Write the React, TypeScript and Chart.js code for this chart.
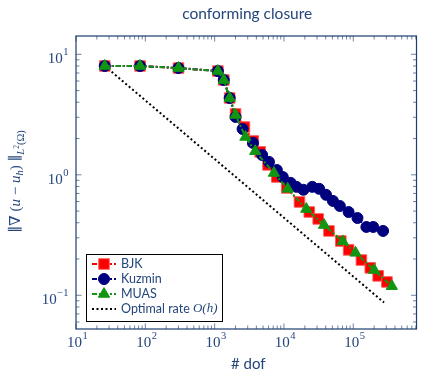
import React, { useEffect, useRef } from 'react';
import { Chart, registerables } from 'chart.js';

Chart.register(...registerables);

// ---------- data ----------
const BJK_DOF = [26, 84, 301, 1114, 1355, 1648, 2004, 2690, 3610, 4540, 5890, 7900, 10960, 16750, 23200, 31200, 44600, 66100, 85700, 131000, 176000, 228500, 306000];
const BJK_ERR = [8.0, 8.0, 7.69, 7.26, 6.12, 4.34, 3.2, 2.49, 1.91, 1.55, 1.21, 0.959, 0.779, 0.595, 0.491, 0.43, 0.342, 0.282, 0.238, 0.196, 0.169, 0.145, 0.129];

const KUZMIN_DOF = [26, 84, 301, 1114, 1355, 1648, 2004, 2530, 3570, 4850, 6080, 7900, 9620, 12500, 15200, 19100, 25600, 32200, 40500, 50900, 64000, 85700, 115000, 154500, 194000, 269000];
const KUZMIN_ERR = [8.0, 8.0, 7.69, 7.26, 6.12, 4.34, 3.02, 2.4, 1.84, 1.46, 1.28, 1.096, 0.959, 0.857, 0.794, 0.751, 0.794, 0.765, 0.682, 0.607, 0.551, 0.491, 0.438, 0.369, 0.369, 0.342];

const MUAS_DOF = [26, 84, 301, 1114, 1355, 1648, 2004, 2780, 3850, 7160, 11330, 21000, 37900, 70500, 107800, 200000, 360000];
const MUAS_ERR = [8.0, 8.0, 7.69, 7.26, 6.12, 4.34, 3.14, 2.06, 1.57, 1.035, 0.765, 0.52, 0.383, 0.28, 0.225, 0.162, 0.119];

const OPT_DOF = [26, 278000];
const OPT_ERR = [8.0, 0.087];

const X_TICKS = [10, 100, 1000, 10000, 100000];
const Y_TICKS = [0.1, 1, 10];

const TITLE = 'conforming closure';
const X_TITLE = '# dof';
const LEGEND_LABELS = ['BJK', 'Kuzmin', 'MUAS', 'Optimal rate '];

// ---------- styles ----------
const NAVY = '#24467a';
const RED = '#ff0000';
const BLUE = '#00007f';
const GREEN = '#129612';
const SERIES_DASH = [5, 2, 2, 2];
const OPT_DASH = [2, 2.5];

const SERIF = '"Liberation Serif", "DejaVu Serif", serif';
const SANS = 'Lato, "Open Sans", sans-serif';

const toPts = (xs: number[], ys: number[]) => xs.map((x, i) => ({ x, y: ys[i] }));

function drawMarker(ctx: CanvasRenderingContext2D, style: string, x: number, y: number, r: number, fill: string, stroke: string) {
  ctx.save();
  ctx.fillStyle = fill;
  ctx.strokeStyle = stroke;
  ctx.lineWidth = 1;
  ctx.setLineDash([]);
  ctx.beginPath();
  if (style === 'rect') {
    const s = Math.SQRT1_2 * r;
    ctx.rect(x - s, y - s, 2 * s, 2 * s);
  } else if (style === 'circle') {
    ctx.arc(x, y, r, 0, Math.PI * 2);
  } else {
    ctx.moveTo(x, y - r);
    ctx.lineTo(x + 0.866 * r, y + 0.5 * r);
    ctx.lineTo(x - 0.866 * r, y + 0.5 * r);
    ctx.closePath();
  }
  ctx.fill();
  ctx.stroke();
  ctx.restore();
}

function expLabel(v: number) {
  const e = Math.round(Math.log10(v));
  return e < 0 ? '\u2212' + Math.abs(e) : String(e);
}

const overlay = {
  id: 'overlay',
  afterDraw(chart: any) {
    const ctx: CanvasRenderingContext2D = chart.ctx;
    const a = chart.chartArea;
    const xs = chart.scales.x;
    const ys = chart.scales.y;
    ctx.save();

    // ticks (inward, on all four sides)
    ctx.strokeStyle = '#4a628a';
    ctx.lineWidth = 0.8;
    const drawTicks = (scale: any, horizontal: boolean) => {
      const e0 = Math.floor(Math.log10(scale.min));
      const e1 = Math.ceil(Math.log10(scale.max));
      for (let e = e0; e <= e1; e++) {
        for (let m = 1; m <= 9; m++) {
          const v = m * Math.pow(10, e);
          if (v < scale.min * 0.9999 || v > scale.max * 1.0001) continue;
          const p = scale.getPixelForValue(v);
          const len = m === 1 ? 5.5 : 3.5;
          ctx.beginPath();
          if (horizontal) {
            ctx.moveTo(p, a.bottom); ctx.lineTo(p, a.bottom - len);
            ctx.moveTo(p, a.top); ctx.lineTo(p, a.top + len);
          } else {
            ctx.moveTo(a.left, p); ctx.lineTo(a.left + len, p);
            ctx.moveTo(a.right, p); ctx.lineTo(a.right - len, p);
          }
          ctx.stroke();
        }
      }
    };
    drawTicks(xs, true);
    drawTicks(ys, false);

    // frame
    ctx.strokeStyle = '#1d3d6e';
    ctx.lineWidth = 1.2;
    ctx.strokeRect(a.left, a.top, a.right - a.left, a.bottom - a.top);

    // tick labels
    ctx.fillStyle = NAVY;
    ctx.textBaseline = 'alphabetic';
    ctx.textAlign = 'left';
    const baseFont = '15px ' + SERIF;
    const expFont = '10.5px ' + SERIF;
    X_TICKS.forEach((v) => {
      const px = xs.getPixelForValue(v);
      ctx.font = baseFont;
      const w1 = ctx.measureText('10').width;
      ctx.font = expFont;
      const ex = expLabel(v);
      const w2 = ctx.measureText(ex).width;
      const x0 = px - (w1 + w2) / 2 + 1;
      ctx.font = baseFont;
      ctx.fillText('10', x0, 347);
      ctx.font = expFont;
      ctx.fillText(ex, x0 + w1 + 0.5, 339);
    });
    Y_TICKS.forEach((v) => {
      const py = ys.getPixelForValue(v);
      ctx.font = baseFont;
      const w1 = ctx.measureText('10').width;
      ctx.font = expFont;
      const ex = expLabel(v);
      const w2 = ctx.measureText(ex).width;
      const x0 = 68.5 - (w1 + w2 + 0.5);
      ctx.font = baseFont;
      ctx.fillText('10', x0, py + 9);
      ctx.font = expFont;
      ctx.fillText(ex, x0 + w1 + 0.5, py + 1);
    });

    // title
    ctx.textAlign = 'center';
    ctx.textBaseline = 'middle';
    ctx.font = '15.5px ' + SANS;
    ctx.fillText(TITLE, (a.left + a.right) / 2 + 1, 14);
    // x title
    ctx.font = '15px ' + SANS;
    ctx.fillText(X_TITLE, (a.left + a.right) / 2 + 2, 364);

    // y title (rotated)
    ctx.save();
    ctx.translate(20, (a.top + a.bottom) / 2 - 1);
    ctx.rotate(-Math.PI / 2);
    ctx.textAlign = 'left';
    ctx.textBaseline = 'alphabetic';
    const segs = [
      { t: '\u2225\u2207 (', f: '15px ' + SERIF, dy: 0 },
      { t: 'u', f: 'italic 15px ' + SERIF, dy: 0 },
      { t: ' \u2212 ', f: '15px ' + SERIF, dy: 0 },
      { t: 'u', f: 'italic 15px ' + SERIF, dy: 0 },
      { t: 'h', f: 'italic 10.5px ' + SERIF, dy: 3 },
      { t: ') \u2225', f: '15px ' + SERIF, dy: 0 },
      { t: 'L', f: 'italic 10.5px ' + SERIF, dy: 4 },
      { t: '2', f: '7.5px ' + SERIF, dy: -1 },
      { t: '(\u03A9)', f: '10.5px ' + SERIF, dy: 4 },
    ];
    let total = 0;
    segs.forEach((s) => { ctx.font = s.f; total += ctx.measureText(s.t).width; });
    let cx = -total / 2;
    segs.forEach((s) => {
      ctx.font = s.f;
      ctx.fillText(s.t, cx, s.dy);
      cx += ctx.measureText(s.t).width;
    });
    ctx.restore();

    // legend
    const lx = 86, ly = 254, lw = 136, lh = 67;
    ctx.fillStyle = '#ffffff';
    ctx.fillRect(lx, ly, lw, lh);
    ctx.strokeStyle = '#000000';
    ctx.lineWidth = 1;
    ctx.setLineDash([]);
    ctx.strokeRect(lx + 0.5, ly + 0.5, lw, lh);
    const entries = [
      { c: RED, s: 'rect', r: 7.5, dash: SERIES_DASH, stroke: 'rgba(255,90,90,0.9)' },
      { c: BLUE, s: 'circle', r: 5.5, dash: SERIES_DASH, stroke: BLUE },
      { c: GREEN, s: 'triangle', r: 6.5, dash: SERIES_DASH, stroke: GREEN },
      { c: '#000000', s: 'none', r: 0, dash: OPT_DASH, stroke: '#000' },
    ];
    entries.forEach((en, i) => {
      const y = 264 + i * 15;
      ctx.save();
      ctx.strokeStyle = en.c;
      ctx.lineWidth = 2;
      ctx.setLineDash(en.dash);
      ctx.beginPath();
      ctx.moveTo(92, y);
      ctx.lineTo(116, y);
      ctx.stroke();
      ctx.restore();
      if (en.s !== 'none') drawMarker(ctx, en.s, 104, y, en.r, en.c, en.stroke);
      ctx.fillStyle = NAVY;
      ctx.textAlign = 'left';
      ctx.textBaseline = 'middle';
      ctx.font = '12.5px ' + SANS;
      ctx.fillText(LEGEND_LABELS[i], 121, y);
      if (i === 3) {
        const w = ctx.measureText(LEGEND_LABELS[i]).width;
        ctx.font = 'italic 13px ' + SERIF;
        ctx.fillText('O(h)', 121 + w, y);
      }
    });

    ctx.restore();
  },
};

export default function App() {
  const ref = useRef<HTMLCanvasElement | null>(null);
  useEffect(() => {
    if (!ref.current) return;
    const common = { borderWidth: 2, borderDash: SERIES_DASH, fill: false, tension: 0, pointBorderWidth: 1 };
    const chart = new Chart(ref.current, {
      type: 'line',
      data: {
        datasets: [
          {
            ...common,
            label: 'BJK',
            data: toPts(BJK_DOF, BJK_ERR),
            borderColor: RED,
            pointStyle: 'rect',
            pointRadius: 7.5,
            pointBackgroundColor: RED,
            pointBorderColor: 'rgba(255,90,90,0.9)',
            order: 3,
          },
          {
            ...common,
            label: 'Kuzmin',
            data: toPts(KUZMIN_DOF, KUZMIN_ERR),
            borderColor: BLUE,
            pointStyle: 'circle',
            pointRadius: 5.5,
            pointBackgroundColor: BLUE,
            pointBorderColor: BLUE,
            order: 2,
          },
          {
            ...common,
            label: 'MUAS',
            data: toPts(MUAS_DOF, MUAS_ERR),
            borderColor: GREEN,
            pointStyle: 'triangle',
            pointRadius: 6.5,
            pointBackgroundColor: GREEN,
            pointBorderColor: GREEN,
            order: 1,
          },
          {
            label: 'Optimal rate O(h)',
            data: toPts(OPT_DOF, OPT_ERR),
            borderColor: '#000000',
            borderWidth: 2,
            borderDash: OPT_DASH,
            pointRadius: 0,
            fill: false,
            order: 4,
          },
        ],
      },
      options: {
        animation: false,
        responsive: false,
        devicePixelRatio: 1,
        layout: { padding: { top: 36, right: 3, left: 0, bottom: 0 } },
        plugins: { legend: { display: false }, title: { display: false }, tooltip: { enabled: false } },
        scales: {
          x: {
            type: 'logarithmic',
            min: 10,
            max: 817000,
            grid: { display: false },
            border: { display: false },
            ticks: { display: false },
            afterFit: (s: any) => { s.height = 44; },
          },
          y: {
            type: 'logarithmic',
            min: 0.0525,
            max: 14.19,
            grid: { display: false },
            border: { display: false },
            ticks: { display: false },
            afterFit: (s: any) => { s.width = 76; },
          },
        },
      },
      plugins: [overlay],
    } as any);
    return () => chart.destroy();
  }, []);
  return (
    <div style={{ position: 'absolute', left: 0, top: 0, width: 425, height: 373 }}>
      <canvas ref={ref} width={425} height={373} />
    </div>
  );
}
